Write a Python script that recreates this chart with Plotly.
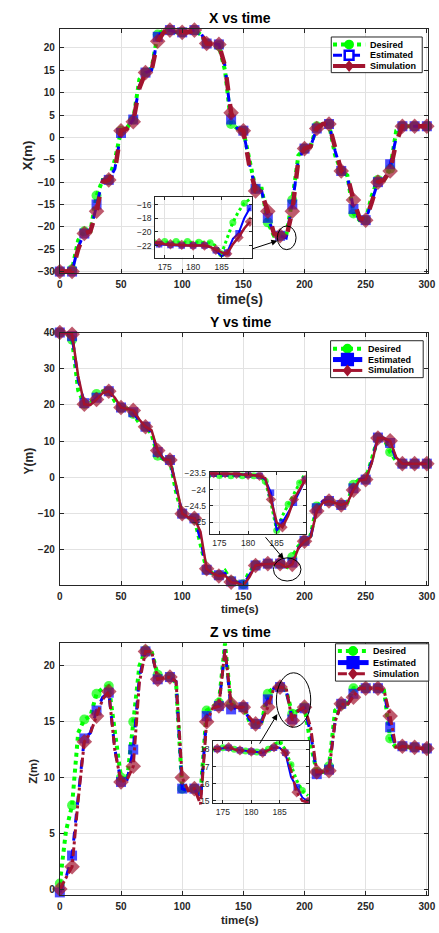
import plotly.graph_objects as go

W, H = 439, 933

# ---------------- data ----------------
t_main = list(range(0, 301, 5))

x_des = [-30, -30, -29.5, -23, -21, -21, -13, -9.5, -9.5, -5,
         1.5, 2.2, 4, 13, 14.5, 15.5, 23, 24, 24, 23.5,
         23.5, 23.5, 24, 23, 21, 21, 20.5, 15, 3, 2,
         1.5, -5, -11.5, -11.5, -19, -22, -22, -22, -14, -4,
         -2.5, -2, 2.5, 3, 3, -4, -7.5, -8.5, -17, -18.5,
         -18.5, -13, -9.5, -9.5, -7, 1.5, 2.5, 2.5, 2.5, 2.5,
         2.5]
x_est = [-30, -30, -30, -24.5, -21.5, -21, -15, -9.5, -9.5, -7,
         1, 2, 4, 11.5, 14.5, 15, 22.5, 24, 24, 23.5,
         23.5, 23.5, 24, 23.5, 21, 21, 20.8, 16, 4, 2,
         1.5, -6, -11.5, -12, -18, -21.5, -22, -22.5, -15, -5,
         -2.5, -2, 2, 3, 3, -3, -7.5, -8.5, -16, -18.5,
         -18.5, -14, -10, -9.5, -6, 0, 2.5, 2.5, 2.5, 2.5,
         2.5]
x_sim = [-30, -30, -30, -25, -21.5, -21, -16.5, -10, -9.5, -7.5,
         1.5, 2, 3.5, 11, 14.5, 15, 21.5, 23.5, 24, 23.5,
         23.5, 23.5, 24, 23.5, 21, 21, 20.8, 16, 5.5, 2,
         1.5, -6.5, -12, -12.5, -16.5, -21.5, -22, -22.5, -16.5, -5,
         -2.5, -2, 2, 3, 3, -2, -7.5, -8.5, -14, -18,
         -18.5, -14.5, -10, -9.5, -7.5, -1, 2.5, 2.5, 2.5, 2.5,
         2.5]

y_des = [40, 40, 38, 24, 20.3, 20.5, 23, 23.8, 23.8, 21,
         19.2, 19, 17.5, 15, 14, 12, 6, 5, 4.8, -4,
         -10, -11, -11.3, -18, -25.5, -26.5, -27, -25.8, -28.5, -29,
         -29.5, -26, -24.2, -24, -23.8, -23.8, -23.8, -25.2, -22, -19,
         -17.5, -16, -8, -6.5, -6.5, -7, -7.6, -7, -2, -0.5,
         -0.5, 5, 11, 10.7, 7, 4.5, 3.8, 3.8, 3.8, 3.8,
         3.8]
y_est = [40, 40, 39, 27, 20.5, 20.3, 22, 23.5, 23.8, 21.5,
         19.3, 19, 18, 15.5, 14, 12.5, 7, 5, 4.8, -3,
         -10, -11, -11.3, -17, -25.5, -26.5, -27, -26.5, -28.7, -29,
         -29.6, -27, -24.3, -24, -23.8, -23.8, -23.8, -25, -23.5, -19.5,
         -17.5, -16.5, -8.5, -6.5, -6.5, -7, -7.6, -7, -3, -0.5,
         -0.6, 4.5, 11, 10.8, 9.5, 5, 3.8, 3.8, 3.8, 3.8,
         3.8]
y_sim = [40, 40, 39.5, 28, 20.2, 20, 21.5, 23.3, 23.8, 22,
         19.3, 19, 18.5, 16, 14, 13, 7.4, 5, 4.8, -2,
         -10, -11, -11.3, -15, -25.2, -26.5, -27.2, -27, -28.9, -29.2,
         -29.8, -27.5, -24.3, -24, -23.8, -23.8, -23.8, -24.8, -24, -19.5,
         -17.6, -16.5, -9.3, -7, -6.5, -7, -7.6, -7, -3.5, -0.8,
         -0.6, 4, 10.9, 10.8, 10.1, 5.5, 3.8, 3.8, 3.8, 3.8,
         3.8]

z_des = [0.5, 5.2, 7.5, 14, 15.2, 15.5, 17.5, 18, 18.2, 14,
         10, 9.8, 15, 20, 21.4, 21.3, 19.2, 19, 19, 18.5,
         9, 8.8, 9, 8.5, 16, 16.4, 16.7, 22, 16.5, 16.4,
         16.3, 15, 14.8, 15, 17.5, 18.1, 18.1, 17.8, 15.7, 16,
         16.3, 13, 10.5, 10.5, 11, 16, 16.5, 16.6, 18, 18.1,
         18, 18, 18, 17.8, 13.5, 12.6, 12.8, 12.7, 12.7, 12.6,
         12.6]
z_est = [-0.3, 1, 3, 8.5, 13.5, 14, 16, 17.2, 17.6, 12.5,
         9.6, 9.8, 12.5, 19, 21.3, 21.3, 18.8, 18.9, 19, 18.6,
         9, 8.8, 9, 8, 15.5, 16.3, 16.4, 21.5, 16.1, 16.3,
         16.3, 15.2, 14.8, 15, 17, 18, 18.1, 17.8, 15.2, 16,
         16.2, 14, 10.3, 10.5, 10.7, 15, 16.6, 16.5, 17.5, 18,
         18, 18, 18, 17.8, 14.5, 12.5, 12.8, 12.7, 12.7, 12.6,
         12.6]
z_sim = [0, 1, 2, 8, 13.2, 14, 15.5, 17, 17.7, 12.4,
         9.6, 9.8, 11, 18.5, 21.3, 21.3, 18.8, 18.9, 19, 18.6,
         10, 8.8, 9, 7.6, 15, 16.2, 16.4, 21.5, 16.6, 16.3,
         16.3, 15.4, 14.8, 15, 16.3, 18, 18.1, 18, 15.1, 16,
         16.3, 14.5, 10.5, 10.5, 10.6, 15, 16.6, 16.5, 17.2, 18,
         18, 18, 18, 17.8, 15.5, 12.5, 12.8, 12.7, 12.7, 12.6,
         12.6]

# zoomed insets (t = 173 .. 190 s)
t_ins = list(range(173, 191))
xi_des = [-21.5, -21.5, -21.4, -21.4, -21.4, -21.4, -21.4, -21.5, -21.5,
          -21.5, -21.6, -22, -23.2, -21, -18.6, -17, -15.8, -15.2]
xi_est = [-21.8, -21.8, -21.9, -21.9, -22, -22, -22, -22, -22,
          -22, -22.2, -22.7, -23.6, -23, -21, -20.2, -18, -16.5]
xi_sim = [-21.6, -21.6, -21.8, -21.8, -21.9, -21.9, -22, -22, -22,
          -22, -22.2, -22.6, -23.0, -23.2, -21.8, -20.8, -19.5, -18.5]

yi_des = [-23.57, -23.57, -23.57, -23.58, -23.58, -23.58, -23.58, -23.58, -23.58,
          -23.6, -23.75, -24.4, -25.25, -24.8, -24.45, -24.15, -23.8, -23.5]
yi_est = [-23.52, -23.52, -23.52, -23.52, -23.53, -23.53, -23.54, -23.55, -23.56,
          -23.58, -23.7, -24.1, -25.25, -25.0, -24.7, -24.4, -24.05, -23.7]
yi_sim = [-23.5, -23.5, -23.5, -23.5, -23.52, -23.52, -23.54, -23.55, -23.56,
          -23.58, -23.65, -24.3, -25.0, -25.15, -24.8, -24.3, -24.0, -23.7]

zi_des = [18.0, 18.05, 18.1, 18.1, 18.0, 17.95, 17.9, 17.9, 17.85,
          17.85, 18.0, 18.3, 18.45, 18.0, 17.1, 16.2, 15.6, 15.3]
zi_est = [18.0, 18.02, 18.05, 18.1, 18.0, 17.95, 17.9, 17.88, 17.85,
          17.8, 17.95, 18.1, 18.1, 17.8, 16.4, 15.8, 15.2, 14.95]
zi_sim = [18.0, 18.04, 18.08, 18.13, 18.0, 17.94, 17.9, 17.87, 17.85,
          17.8, 17.95, 18.13, 18.1, 17.8, 16.8, 15.5, 15.0, 14.95]

series_names = ["Desired", "Estimated", "Simulation"]
titles = ["X vs time", "Y vs time", "Z vs time"]
ylabels = ["X(m)", "Y(m)", "Z(m)"]
x_ticks = [0, 50, 100, 150, 200, 250, 300]
y_ticks = [[-30, -25, -20, -15, -10, -5, 0, 5, 10, 15, 20],
           [-20, -10, 0, 10, 20, 30, 40],
           [0, 5, 10, 15, 20]]
ins_xticks = [175, 180, 185]
ins_yticks = [[-22, -20, -18, -16], [-25, -24.5, -24, -23.5], [15, 16, 17, 18]]

# ---------------- styling ----------------
C_DES, C_EST, C_SIM = "#00ff00", "#0000ff", "#a2142f"
AX = "#262626"
GRID = "#e2e2e2"
FONT = "Liberation Sans, Arial, Helvetica, sans-serif"


def px(p):
    return p / W


def py(p):
    return 1 - p / H


main_box = [(58.3, 436, 24, 270.5), (58.3, 436, 330.7, 585.3), (58.3, 436, 644, 898.3)]
main_yr = [[-30.3, 24.3], [-29.6, 40], [-0.5, 22.07]]
ins_box = [(156, 255, 194, 255), (212, 310.7, 471.7, 534), (215.7, 314, 743.3, 805.7)]
ins_xr = [[173.3, 190.3], [173.3, 190.1], [173.3, 190.2]]
ins_yr = [[-23.75, -14.9], [-25.35, -23.47], [14.88, 18.48]]

sim_dash = ["dash", "solid", "dashdot"]
sim_w = [4.5, 2.5, 3]
ins_sim_dash = ["solid", "solid", "dashdot"]

main_data = [(x_des, x_est, x_sim), (y_des, y_est, y_sim), (z_des, z_est, z_sim)]
ins_data = [(xi_des, xi_est, xi_sim), (yi_des, yi_est, yi_sim), (zi_des, zi_est, zi_sim)]

fig = go.Figure()

main_on = [v % 10 == 0 for v in t_main]
ins_even = [v % 2 == 0 for v in t_ins]
ins_odd = [v % 2 == 1 for v in t_ins]


def sizes(mask, s):
    return [s if m else 0 for m in mask]


for i in range(3):
    xa = "x" + ("" if i == 0 else str(i + 1))
    ya = "y" + ("" if i == 0 else str(i + 1))
    d, e, s = main_data[i]
    fig.add_trace(go.Scatter(
        x=t_main, y=d, name=series_names[0], mode="lines+markers", showlegend=False,
        line=dict(color=C_DES, width=4, dash="dot"), cliponaxis=False,
        marker=dict(symbol="circle", size=sizes(main_on, 10), color=C_DES, line=dict(width=0)),
        xaxis=xa, yaxis=ya))
    fig.add_trace(go.Scatter(
        x=t_main, y=e, name=series_names[1], mode="lines+markers", showlegend=False,
        line=dict(color=C_EST, width=3, dash="dash"), cliponaxis=False,
        marker=dict(symbol="square", size=sizes(main_on, 10), color=C_EST, line=dict(width=0)),
        xaxis=xa, yaxis=ya))
    fig.add_trace(go.Scatter(
        x=t_main, y=s, name=series_names[2], mode="lines+markers", showlegend=False,
        line=dict(color=C_SIM, width=sim_w[i], dash=sim_dash[i]), cliponaxis=False,
        marker=dict(symbol="diamond", size=sizes(main_on, 12), color=C_SIM, line=dict(width=0)),
        xaxis=xa, yaxis=ya))

for i in range(3):
    k = i + 4
    xa, ya = "x%d" % k, "y%d" % k
    d, e, s = ins_data[i]
    fig.add_trace(go.Scatter(
        x=t_ins, y=d, mode="lines+markers", showlegend=False,
        line=dict(color=C_DES, width=3, dash="dot"),
        marker=dict(symbol="circle", size=sizes(ins_odd, 7), color=C_DES, line=dict(width=0)),
        xaxis=xa, yaxis=ya))
    fig.add_trace(go.Scatter(
        x=t_ins, y=e, mode="lines+markers", showlegend=False,
        line=dict(color=C_EST, width=2, dash="solid"),
        marker=dict(symbol="square", size=sizes(ins_even, 6.5), color=C_EST, line=dict(width=0)),
        xaxis=xa, yaxis=ya))
    fig.add_trace(go.Scatter(
        x=t_ins, y=s, mode="lines+markers", showlegend=False,
        line=dict(color=C_SIM, width=2.5, dash=ins_sim_dash[i]),
        marker=dict(symbol="diamond", size=sizes(ins_even, 8), color=C_SIM, line=dict(width=0)),
        xaxis=xa, yaxis=ya))

layout = dict(
    width=W, height=H, margin=dict(l=0, r=0, t=0, b=0, pad=0),
    paper_bgcolor="white", plot_bgcolor="white", showlegend=False,
    font=dict(family=FONT, color=AX),
    annotations=[], shapes=[],
)

for i in range(3):
    l, r, t, b = main_box[i]
    suf = "" if i == 0 else str(i + 1)
    layout["xaxis" + suf] = dict(
        domain=[px(l), px(r)], range=[0, 301], tickvals=x_ticks,
        ticks="inside", ticklen=4, tickcolor=AX, showline=True, linecolor=AX,
        linewidth=1, mirror="ticks", showgrid=True, gridcolor=GRID, zeroline=False,
        tickfont=dict(size=10, weight="bold", color=AX), anchor="y" + suf,
        ticklabelstandoff=2, ticklabeloverflow="allow")
    layout["yaxis" + suf] = dict(
        domain=[py(b), py(t)], range=main_yr[i], tickvals=y_ticks[i],
        ticks="inside", ticklen=4, tickcolor=AX, showline=True, linecolor=AX,
        linewidth=1, mirror="ticks", showgrid=True, gridcolor=GRID, zeroline=False,
        tickfont=dict(size=10, weight="bold", color=AX), anchor="x" + suf,
        ticklabelstandoff=2)
    cx = (l + r) / 2 - 4
    layout["annotations"].append(dict(
        text=titles[i], x=px(cx), y=py(t - 11), xref="paper", yref="paper",
        showarrow=False, xanchor="center", yanchor="middle",
        font=dict(size=14, weight="bold", color="black")))

# axis labels
xlab_y = [297, 610, 924]
xlab_size = [14, 11.5, 11.5]
ylab_pos = [(25.5, 152), (26.5, 460), (30, 774)]
ylab_size = [13.5, 12, 11.5]
for i in range(3):
    layout["annotations"].append(dict(
        text="time(s)", x=px(243.5), y=py(xlab_y[i]), xref="paper", yref="paper",
        showarrow=False, xanchor="center", yanchor="middle",
        font=dict(size=xlab_size[i], weight="bold", color=AX)))
    layout["annotations"].append(dict(
        text=ylabels[i], x=px(ylab_pos[i][0]), y=py(ylab_pos[i][1]), xref="paper", yref="paper",
        showarrow=False, xanchor="center", yanchor="middle", textangle=-90,
        font=dict(size=ylab_size[i], weight="bold", color=AX)))

# insets
for i in range(3):
    k = i + 4
    l, r, t, b = ins_box[i]
    layout["xaxis%d" % k] = dict(
        domain=[px(l), px(r)], range=ins_xr[i], tickvals=ins_xticks,
        ticks="inside", ticklen=3, tickcolor=AX, showline=True, linecolor=AX,
        linewidth=1, mirror="ticks", showgrid=True, gridcolor=GRID, zeroline=False,
        tickfont=dict(size=8.5, color=AX), anchor="y%d" % k, ticklabelstandoff=1)
    layout["yaxis%d" % k] = dict(
        domain=[py(b), py(t)], range=ins_yr[i], tickvals=ins_yticks[i],
        ticks="inside", ticklen=3, tickcolor=AX, showline=True, linecolor=AX,
        linewidth=1, mirror="ticks", showgrid=True, gridcolor=GRID, zeroline=False,
        tickfont=dict(size=8.5, color=AX), anchor="x%d" % k, ticklabelstandoff=1)

# ellipses and arrows (main-axis data coordinates)
ellipses = [("x", "y", 177.8, 193.1, -25.1, -19.8),
            ("x2", "y2", 174.6, 197.1, -28.6, -22.2),
            ("x3", "y3", 177.0, 205.1, 14.5, 19.38)]
for xr, yr, x0, x1, y0, y1 in ellipses:
    layout["shapes"].append(dict(type="circle", xref=xr, yref=yr, x0=x0, x1=x1,
                                 y0=y0, y1=y1, line=dict(color="black", width=1)))
arrows = [("x", "y", 156.5, -25.0, 177.8, -23.1),
          ("x2", "y2", 167.1, -16.1, 183.0, -22.5),
          ("x3", "y3", 162.6, 12.9, 177.8, 15.68)]
for xr, yr, ax0, ay0, hx, hy in arrows:
    layout["annotations"].append(dict(
        x=hx, y=hy, ax=ax0, ay=ay0, xref=xr, yref=yr, axref=xr, ayref=yr,
        text="", showarrow=True, arrowhead=2, arrowsize=1.2, arrowwidth=1,
        arrowcolor="black", standoff=0, startstandoff=0))

# ---------------- legends (drawn as keys in paper space) ----------------
leg_geo = [
    dict(box=(336.7, 32.3, 430, 68.3), rows=(40, 50.7, 61.7), lx=(338.5, 371.5), mx=355, tx=374),
    dict(box=(336, 339, 431, 376.3), rows=(347, 358, 369), lx=(338.5, 368.5), mx=353.3, tx=372),
    dict(box=(341, 645, 436.7, 682.7), rows=(652.3, 664, 675.3), lx=(343.5, 375), mx=359, tx=377.5),
]
leg_est_line = [("dash", 3), ("solid", 5), ("solid", 5)]
leg_sim_line = [("solid", 4), ("solid", 3), ("dash", 3)]
leg_est_fill = ["white", C_EST, C_EST]


def pline(x0, y0, x1, y1, color, width, dash):
    return dict(type="line", xref="paper", yref="paper", x0=px(x0), x1=px(x1),
                y0=py(y0), y1=py(y1), line=dict(color=color, width=width, dash=dash))


for i, g in enumerate(leg_geo):
    bl, bt, br, bb = g["box"]
    layout["shapes"].append(dict(type="rect", xref="paper", yref="paper",
                                 x0=px(bl), x1=px(br), y0=py(bb), y1=py(bt),
                                 fillcolor="white", line=dict(color=AX, width=1)))
    r0, r1, r2 = g["rows"]
    x0, x1 = g["lx"]
    mx = g["mx"]
    layout["shapes"].append(pline(x0, r0, x1, r0, C_DES, 4, "dot"))
    layout["shapes"].append(dict(type="circle", xref="paper", yref="paper",
                                 x0=px(mx - 5), x1=px(mx + 5), y0=py(r0 + 5), y1=py(r0 - 5),
                                 fillcolor=C_DES, line=dict(width=0)))
    dsh, wd = leg_est_line[i]
    layout["shapes"].append(pline(x0, r1, x1, r1, C_EST, wd, dsh))
    hs = 4.5 if i == 0 else 5.5
    layout["shapes"].append(dict(type="rect", xref="paper", yref="paper",
                                 x0=px(mx - hs), x1=px(mx + hs), y0=py(r1 + hs), y1=py(r1 - hs),
                                 fillcolor=leg_est_fill[i], line=dict(color=C_EST, width=2.5)))
    dsh, wd = leg_sim_line[i]
    layout["shapes"].append(pline(x0, r2, x1, r2, C_SIM, wd, dsh))
    path = "M %.5f,%.5f L %.5f,%.5f L %.5f,%.5f L %.5f,%.5f Z" % (
        px(mx), py(r2 - 6), px(mx + 5), py(r2), px(mx), py(r2 + 6), px(mx - 5), py(r2))
    layout["shapes"].append(dict(type="path", xref="paper", yref="paper", path=path,
                                 fillcolor=C_SIM, line=dict(width=0)))
    for name, ry in zip(series_names, g["rows"]):
        layout["annotations"].append(dict(
            text=name, x=px(g["tx"]), y=py(ry), xref="paper", yref="paper",
            showarrow=False, xanchor="left", yanchor="middle",
            font=dict(size=9, weight="bold", color="black")))

fig.update_layout(**layout)
fig.write_html("out.html")
